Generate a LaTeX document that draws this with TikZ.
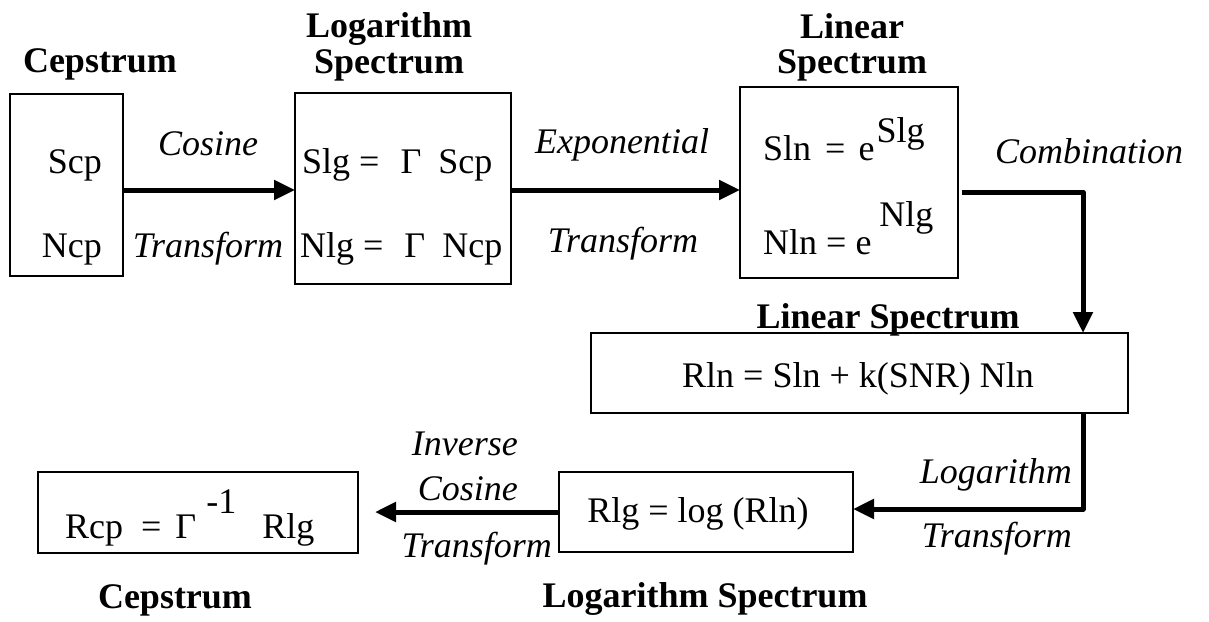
\documentclass[tikz,border=0pt]{standalone}
\usepackage{fontspec}
\setmainfont{Liberation Serif}
\usetikzlibrary{arrows.meta}
\begin{document}
\begin{tikzpicture}[x=1pt,y=-1pt,
 box/.style={draw, line width=1.6pt, inner sep=0pt, outer sep=0pt},
 txt/.style={inner sep=0pt, anchor=base, font=\fontsize{36}{40}\selectfont},
 ttl/.style={txt, font=\fontsize{36}{40}\selectfont\bfseries},
 it/.style={txt, font=\fontsize{36}{40}\selectfont\itshape},
 arr/.style={line width=5pt, -{Triangle[length=21pt,width=19pt]}, line join=round},
]
\useasboundingbox (0,0) rectangle (1209,621);
% boxes
\node[box, minimum width=113pt, minimum height=182pt] (cep) at (66.5,185) {};
\node[box, minimum width=216pt, minimum height=191pt] (lg) at (403,188.5) {};
\node[box, minimum width=218pt, minimum height=191pt] (lin) at (849,182.5) {};
\node[box, minimum width=537pt, minimum height=80pt] (rln) at (859.5,373) {};
\node[box, minimum width=294pt, minimum height=80pt] (rlg) at (706,512) {};
\node[box, minimum width=320pt, minimum height=81pt] (rcp) at (198,512.5) {};
% titles
\node[ttl] (t1) at (100,72) {Cepstrum};
\node[ttl] (t2a) at (389,37) {Logarithm};
\node[ttl] (t2b) at (389,73) {Spectrum};
\node[ttl] (t3a) at (852,38) {Linear};
\node[ttl] (t3b) at (852,73) {Spectrum};
\node[ttl] (t4) at (888,328) {Linear Spectrum};
\node[ttl] (t5) at (705,607) {Logarithm Spectrum};
\node[ttl] (t6) at (175,608) {Cepstrum};
% box contents
\node[txt, anchor=base east] (scp) at (102,173) {Scp};
\node[txt, anchor=base east] (ncp) at (102,257) {Ncp};
\node[txt, anchor=base west] (slg) at (302,173) {Slg =\hspace{21pt}Γ\hspace{17pt}Scp};
\node[txt, anchor=base west] (nlg) at (300,257) {Nlg =\hspace{21pt}Γ\hspace{17pt}Ncp};
\node[txt, anchor=base west] (sln) at (763,160) {Sln\hspace{14pt}=\hspace{13pt}e\hspace{2pt}\raisebox{18pt}{Slg}};
\node[txt, anchor=base west] (nln) at (763,254) {Nln = e\hspace{8pt}\raisebox{28pt}{Nlg}};
\node[txt] (rlnt) at (858,387) {Rln = Sln + k(SNR) Nln};
\node[txt] (rlgt) at (698,522) {Rlg = log (Rln)};
\node[txt, anchor=base west] (rcpt) at (65,538) {Rcp\hspace{18pt}=\hspace{14pt}Γ\hspace{10pt}\raisebox{25pt}{-1}\hspace{26pt}Rlg};
% connector labels
\node[it] (l1a) at (208,155) {Cosine};
\node[it] (l1b) at (208,257) {Transform};
\node[it] (l2a) at (622,153) {Exponential};
\node[it] (l2b) at (623,252) {Transform};
\node[it, anchor=base west] (l3) at (995,163) {Combination};
\node[it, anchor=base east] (l4a) at (1072,483) {Logarithm};
\node[it, anchor=base east] (l4b) at (1072,547) {Transform};
\node[it, anchor=base east] (l5a) at (518,455) {Inverse};
\node[it, anchor=base east] (l5b) at (518,500) {Cosine};
\node[it, anchor=base east] (l5c) at (552,557) {Transform};
% connectors
\coordinate (y1) at (0,190);
\coordinate (c1) at (1083,192);
\coordinate (c2) at (1083,509);
\coordinate (c3) at (375,512);
\draw[arr] (cep.east |- y1) -- (lg.west |- y1);
\draw[arr] (lg.east |- y1) -- (lin.west |- y1);
\draw[arr] ([xshift=4pt]lin.east |- c1) -- (c1) -- (c1 |- rln.north);
\draw[arr] (c1 |- rln.south) -- (c2) -- (rlg.east |- c2);
\draw[arr] (rlg.west |- c3) -- (c3);
\end{tikzpicture}
\end{document}
